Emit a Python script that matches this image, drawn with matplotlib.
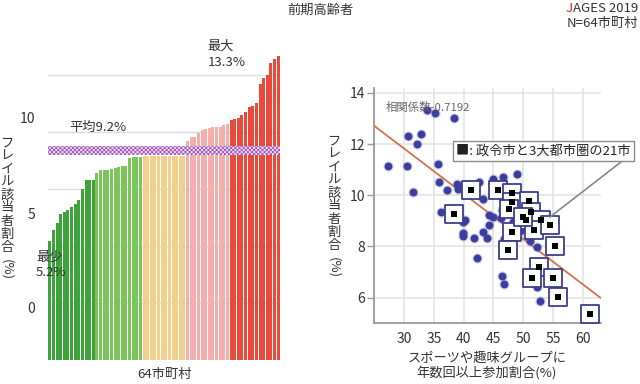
import matplotlib
matplotlib.use("Agg")
import matplotlib.pyplot as plt
import numpy as np

plt.rcParams['font.family'] = ['Noto Sans CJK JP', 'DejaVu Sans']
plt.rcParams['hatch.linewidth'] = 0.55

# ---------------- data ----------------
title = "前期高齢者"
source_line1 = "AGES 2019"
source_j = "J"
source_line2 = "N=64市町村"

# left: frailty rate per municipality (sorted), in five groups
group_dark_green = [5.21, 5.73, 6.0, 6.4, 6.5, 6.6, 6.7, 6.85, 7.03, 7.5, 7.9, 7.9, 7.92]
group_light_green = [8.2, 8.32, 8.32, 8.35, 8.38, 8.42, 8.49, 8.52, 8.52, 8.86, 8.9, 8.9, 8.9]
group_tan = [8.95] * 12
group_pink = [9.62, 9.78, 9.8, 9.96, 10.1, 10.14, 10.2, 10.22, 10.22, 10.24, 10.3, 10.34]
group_red = [10.54, 10.57, 10.63, 10.73, 10.9, 11.12, 11.14, 11.27, 12.1, 12.37, 12.51, 13.03, 13.2, 13.32]
group_colors = ['#3fa33c', '#7cc55a', '#f3cf8e', '#f4aeab', '#ea4a3c']
mean_value = 9.2
left_tick_pos = [2.3, 6.45, 10.65]     # where the printed labels sit
left_tick_labels = ['0', '5', '10']
left_grid = [2.5, 5.0, 7.5, 10.0, 12.5]
left_xlabel = "64市町村"
ylabel_chars = list("フレイル該当者割合")
ylabel_tail = "(%)"

# right: scatter
circle_x = [27.3, 30.4, 30.7, 32.8, 32.2, 33.8, 35.2, 38.4, 35.7, 35.8, 31.5, 37.2, 38.8, 39.0,
            42.6, 45.0, 46.6, 48.9, 43.2, 36.2, 39.8, 40.2, 39.9, 39.9, 41.7, 42.2, 43.2, 44.0,
            44.2, 44.3, 44.9, 46.4, 46.7, 46.7, 51.1, 52.3, 52.3, 52.9, 48.3, 46.3, 46.5, 48.5, 49.5]
circle_y = [11.13, 11.13, 12.32, 12.41, 12.02, 13.32, 13.23, 13.02, 11.21, 10.52, 10.12, 10.22, 10.43, 10.25,
            10.52, 10.62, 10.72, 10.83, 9.85, 9.33, 8.97, 9.03, 8.52, 8.41, 8.33, 7.55, 8.55, 8.34,
            8.85, 9.23, 9.16, 6.86, 6.54, 8.3, 8.23, 7.97, 6.43, 5.86, 8.95, 9.12, 9.42, 9.28, 8.6]
square_x = [38.4, 41.3, 45.7, 48.1, 48.1, 47.7, 50.9, 51.4, 50.5, 53.0, 51.9, 54.5, 48.1, 47.4,
            55.4, 52.6, 51.5, 55.0, 55.9, 61.3, 50.0]
square_y = [9.28, 10.2, 10.2, 10.07, 9.73, 9.46, 9.79, 9.35, 9.02, 9.05, 8.65, 8.82, 8.56, 7.88,
            8.03, 7.18, 6.78, 6.78, 6.04, 5.37, 9.15]
trend_x = [25.0, 63.0]
trend_y = [12.7, 6.0]
right_xticks = [30, 35, 40, 45, 50, 55, 60]
right_yticks = [6, 8, 10, 12, 14]
corr_text = "相関係数-0.7192"
legend_text = "■: 政令市と3大都市圏の21市"
right_xlabel = "スポーツや趣味グループに\n年数回以上参加割合(%)"

# ---------------- figure ----------------
W, H = 640, 384
fig = plt.figure(figsize=(6.4, 3.84), dpi=100)
fig.patch.set_facecolor('white')
def fx(px): return px / W
def fy(py): return 1 - py / H
TXT = '#333333'

# ---- left bar chart ----
ax1 = fig.add_axes([fx(48), fy(360.3), (280 - 48) / W, (360.3 - 50) / H])
groups = [group_dark_green, group_light_green, group_tan, group_pink, group_red]
values = []
colors = []
for g, c in zip(groups, group_colors):
    values += g
    colors += [c] * len(g)
idx = np.arange(len(values))
for gy in left_grid:
    ax1.axhline(gy, color='#dcdcdc', lw=1.0, zorder=0)
ax1.bar(idx, values, width=0.82, color=colors, zorder=2)
ax1.axhspan(mean_value - 0.2, mean_value + 0.2, facecolor='#f2dcf4', edgecolor='#9c58b8',
            hatch='xxxxxxxx', lw=0, zorder=3)
ax1.set_xlim(-0.5, len(values) - 0.5)
ax1.set_ylim(0, 13.6)
ax1.set_xticks([])
ax1.set_yticks(left_tick_pos)
ax1.set_yticklabels(left_tick_labels, fontsize=10, color=TXT)
ax1.tick_params(axis='y', length=0, pad=9)
for s in ax1.spines.values():
    s.set_visible(False)
ax1.text(43.6, 12.75, "最大\n%.1f%%" % max(values), fontsize=9.5,
         color=TXT, ha='left', va='bottom', linespacing=1.35, zorder=5)
ax1.text(5.3, 10.19, "平均%.1f%%" % mean_value, fontsize=9.5, color=TXT,
         ha='left', va='center', zorder=5)
ax1.text(-3.8, 4.18, "最少\n%.1f%%" % min(values), fontsize=9.5, color=TXT,
         ha='left', va='center', linespacing=1.3, zorder=5)
fig.text(fx(164), fy(374), left_xlabel, fontsize=9.5, color=TXT, ha='center', va='center')

def vlabel(xc, ytop):
    for i, ch in enumerate(ylabel_chars):
        fig.text(fx(xc), fy(ytop + 13 * i), ch, fontsize=9.5, color=TXT, ha='center', va='center')
    fig.text(fx(xc), fy(ytop + 13 * len(ylabel_chars) + 10), ylabel_tail, fontsize=9.5,
             color=TXT, ha='center', va='center', rotation=-90)

vlabel(7, 143)
vlabel(334, 141)

# ---- right scatter ----
ax2 = fig.add_axes([fx(374), fy(323.3), (601 - 374) / W, (323.3 - 87.5) / H])
ax2.set_xlim(24.9, 63.1)
ax2.set_ylim(5.0, 14.21)
ax2.set_xticks(right_xticks)
ax2.set_yticks(right_yticks)
ax2.grid(True, color='#e2e2e2', lw=1.1, zorder=0)
ax2.set_axisbelow(True)
for s in ['top', 'right']:
    ax2.spines[s].set_visible(False)
for s in ['left', 'bottom']:
    ax2.spines[s].set_color('#9a9a9a')
    ax2.spines[s].set_linewidth(1.3)
ax2.tick_params(axis='y', length=5, width=1, color='#9a9a9a', pad=1.5, labelsize=10, labelcolor=TXT)
ax2.tick_params(axis='x', length=0, pad=6, labelsize=10, labelcolor=TXT)
ax2.plot(trend_x, trend_y, color='#d27349', lw=1.3, zorder=3)
ax2.scatter(circle_x, circle_y, s=55, color='#7072c2', alpha=0.3, lw=0, zorder=4)
ax2.scatter(circle_x, circle_y, s=32, color='#3c3d9c', lw=0, zorder=5)
ax2.scatter(square_x, square_y, marker='s', s=150, facecolor='white', edgecolor='#3b3e8e',
            lw=1.3, zorder=6)
ax2.scatter(square_x, square_y, marker='s', s=14, color='black', lw=0, zorder=7)
ax2.text(26.8, 13.44, corr_text, fontsize=8.2, color='#666666', ha='left', va='center', zorder=8)
fig.text(fx(487), fy(358), right_xlabel.split("\n")[0], fontsize=9.5, color=TXT,
         ha='center', va='center')
fig.text(fx(487), fy(374), right_xlabel.split("\n")[1], fontsize=9.5, color=TXT,
         ha='center', va='center')

# legend box with leader line
fig.text(fx(456), fy(151), legend_text, fontsize=9.5, color='#222222', ha='left', va='center',
         bbox=dict(boxstyle='square,pad=0.25', facecolor='white', edgecolor='#8a8a8a', lw=1.0),
         zorder=10)
fig.add_artist(plt.Line2D([fx(621), fx(550)], [fy(162), fy(217)], color='#888888', lw=1.2, zorder=9))

# titles
fig.text(0.5, fy(10), title, fontsize=9.5, color=TXT, ha='center', va='center')
t1 = fig.text(fx(638), fy(9), source_line1, fontsize=9.5, color=TXT, ha='right', va='center')
fig.text(fx(638), fy(23), source_line2, fontsize=9.5, color=TXT, ha='right', va='center')
fig.canvas.draw()
bb = t1.get_window_extent(fig.canvas.get_renderer())
fig.text(bb.x0 / W, fy(9), source_j, fontsize=9.5, color='#d9232e', ha='right', va='center',
         style='italic')

fig.savefig('out.png', dpi=100)
